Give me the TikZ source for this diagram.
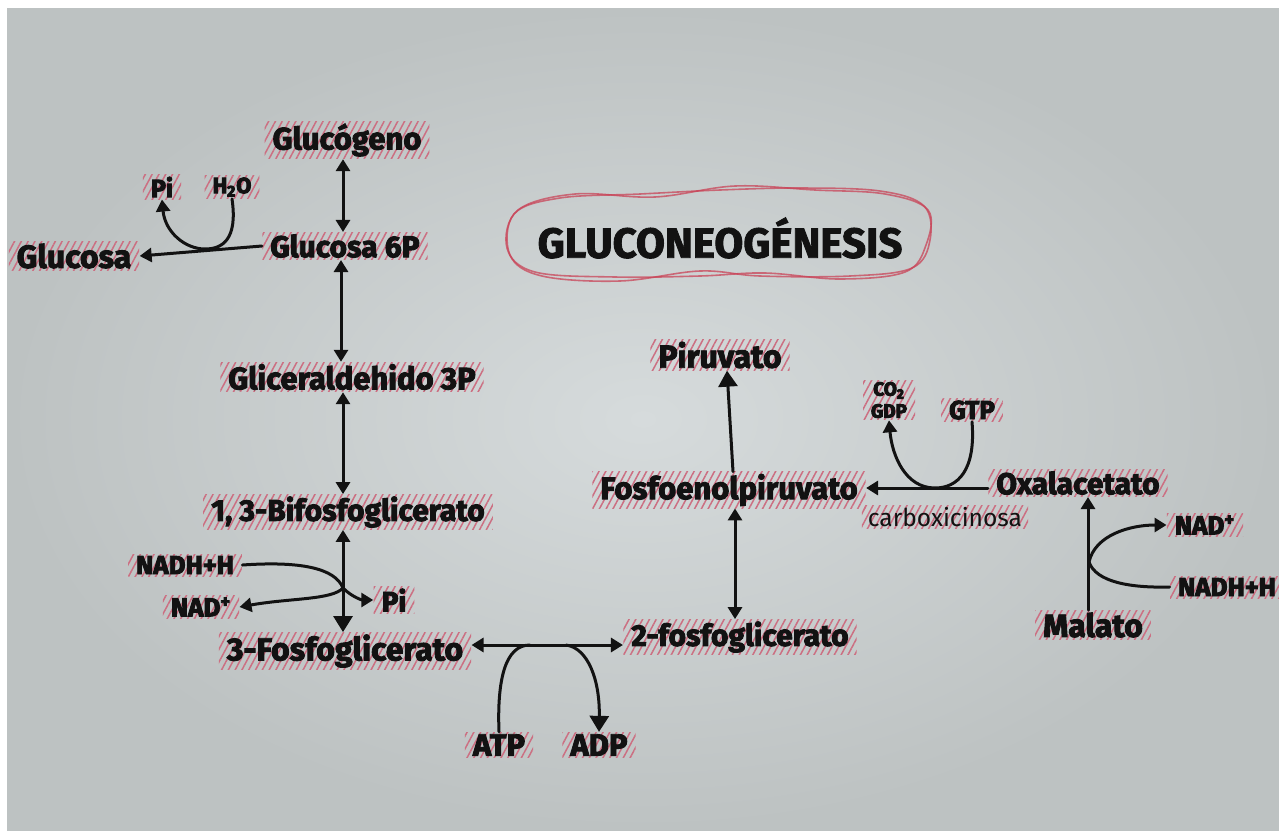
\documentclass[tikz,border=0pt]{standalone}
\usepackage{fontspec}
\setmainfont{Fira Sans}
\usetikzlibrary{arrows.meta,patterns.meta,calc}
\definecolor{paperin}{HTML}{D6DBDC}
\definecolor{paperout}{HTML}{BDC2C2}
\definecolor{ink}{HTML}{121212}
\definecolor{hatch}{HTML}{CC6F82}
\definecolor{pencil}{HTML}{C94458}
% marker-like lettering: fill and stroke the glyphs
\newcommand\marker[1]{\special{pdf:code 2 Tr 0.45 w}#1\special{pdf:code 0 Tr}}
\begin{document}
\begin{tikzpicture}[x=0.5pt,y=-0.5pt,
  hatched/.style={pattern={Lines[angle=62,distance=3pt,line width=0.75pt]}, pattern color=hatch},
  lbl/.style={font=\fontsize{#1}{#1}\selectfont\bfseries, text=ink, inner xsep=4pt, inner ysep=1pt, hatched, execute at begin node=\special{pdf:code 2 Tr 0.45 w}, execute at end node=\special{pdf:code 0 Tr}},
  lbl/.default=15.5,
  thin lbl/.style={font=\fontsize{12.3}{12.3}\selectfont, text=ink, inner xsep=3pt, inner ysep=1pt, hatched},
  wire/.style={line width=1.5pt, draw=ink, line cap=round},
  tip/.tip={Triangle[length=6pt,width=7pt]},
  bigtip/.tip={Triangle[length=8pt,width=9.5pt]},
  flow/.style={wire, -tip},
  both/.style={wire, tip-tip},
  pencil line/.style={draw=pencil, line width=0.8pt, opacity=0.75}
]
% paper
\fill[white] (0,0) rectangle (1279,831);
\shade[inner color=paperin, outer color=paperout] (7,8) rectangle (1279,830);
\useasboundingbox (0,0) rectangle (1279,831);

% title with its pencil outline
\draw[pencil line] plot[smooth cycle, tension=0.6] coordinates {(514,214) (560,198) (640,194) (720,190) (800,188) (880,191) (924,206) (930,240) (912,268) (850,276) (760,276) (700,271) (620,281) (542,276) (510,255)};
\draw[pencil line] plot[smooth cycle, tension=0.6] coordinates {(518,210) (575,194) (655,197) (735,186) (815,190) (885,194) (928,210) (926,245) (905,272) (840,279) (765,273) (700,276) (615,277) (535,272) (507,248)};
\node[font=\fontsize{21}{21}\selectfont\bfseries, text=ink] (title) at (720,238) {\marker{GLUCONEOGÉNESIS}};

% left branch
\node[lbl] (glucogeno) at (347,140) {Glucógeno};
\node[lbl=15] (g6p) at (345,246) {Glucosa 6P};
\node[lbl=16] (glucosa) at (74,256) {Glucosa};
\node[lbl=12.5] (pi1) at (162,187) {Pi};
\node[lbl=11] (h2o) at (232,187) {H\textsubscript{2}O};
\node[lbl] (g3p) at (352,377) {Gliceraldehido 3P};
\node[lbl=15] (bpg) at (348,512) {1, 3-Bifosfoglicerato};
\node[lbl=13] (nadh1) at (185,565) {NADH+H};
\node[lbl=13] (nad1) at (201,607) {NAD\textsuperscript{+}};
\node[lbl=14] (pi2) at (394,600) {Pi};
\node[lbl=16] (pg3) at (345,651) {3-Fosfoglicerato};
\node[lbl] (atp) at (499,745) {ATP};
\node[lbl] (adp) at (599,745) {ADP};

% right branch
\node[lbl=15] (pg2) at (740,637) {2-fosfoglicerato};
\node[lbl] (pep) at (729,490) {Fosfoenolpiruvato};
\node[lbl=16] (piruvato) at (720,355) {Piruvato};
\node[lbl=15] (oaa) at (1078,483) {Oxalacetato};
\node[thin lbl] (carbox) at (945,517) {carboxicinosa};
\node[lbl=9.5, align=center] (co2) at (889,400) {CO\textsubscript{2}\\[1.5pt]GDP};
\node[lbl=13] (gtp) at (972,410) {GTP};
\node[lbl=16] (malato) at (1093,625) {Malato};
\node[lbl=13] (nad2) at (1205,525) {NAD\textsuperscript{+}};
\node[lbl=13] (nadh2) at (1227,587) {NADH+H};

% junctions of the side reactions
\coordinate (jA) at (205,249);
\coordinate (jB) at (343,588);
\coordinate (jC) at (530,645);
\coordinate (jD) at (566,645);
\coordinate (jE) at (935,488);
\coordinate (jF) at (1089,562);

% main chain
\draw[both] (glucogeno.south -| 343,0) -- (g6p.north -| 343,0);
\draw[both] (g6p.south -| 341,0) -- (g3p.north -| 341,0);
\draw[both] (g3p.south -| 343,0) -- (bpg.north -| 343,0);
\draw[wire, tip-bigtip] (bpg.south -| 343,0) -- (pg3.north -| 343,0);
\draw[both] (pg3.east |- jC) -- (pg2.west |- jC);
\draw[both] (pep.south -| 735,0) -- (pg2.north -| 735,0);
\draw[wire, -bigtip] (pep.north -| 733,0) -- (piruvato.south -| 727,0);
\draw[flow] (oaa.west |- jE) -- (pep.east |- jE);
\draw[flow] (malato.north -| 1088,0) -- (oaa.south -| 1088,0);
\draw[flow] (g6p.west) -- (glucosa.east);

% side reactions
\draw[flow] (h2o.south) .. controls (238,240) and (222,249) .. (jA)
  .. controls (185,249) and (165,232) .. (pi1.south);
\draw[wire] (nadh1.east) .. controls (300,561) and (335,568) .. (jB);
\draw[flow] (jB) .. controls (332,600) and (290,598) .. (nad1.east);
\draw[flow] (jB) .. controls (352,597) and (362,600) .. (pi2.west);
\draw[wire] (atp.north) .. controls (497,680) and (505,645) .. (jC);
\draw[wire, -bigtip] (jD) .. controls (588,648) and (600,680) .. (adp.north);
\draw[flow] (gtp.south) .. controls (976,470) and (958,488) .. (jE)
  .. controls (905,488) and (892,455) .. (co2.south);
\draw[flow] (jF) .. controls (1095,535) and (1130,525) .. (nad2.west);
\draw[wire] (nadh2.west) .. controls (1130,588) and (1096,582) .. (jF);
\end{tikzpicture}
\end{document}
